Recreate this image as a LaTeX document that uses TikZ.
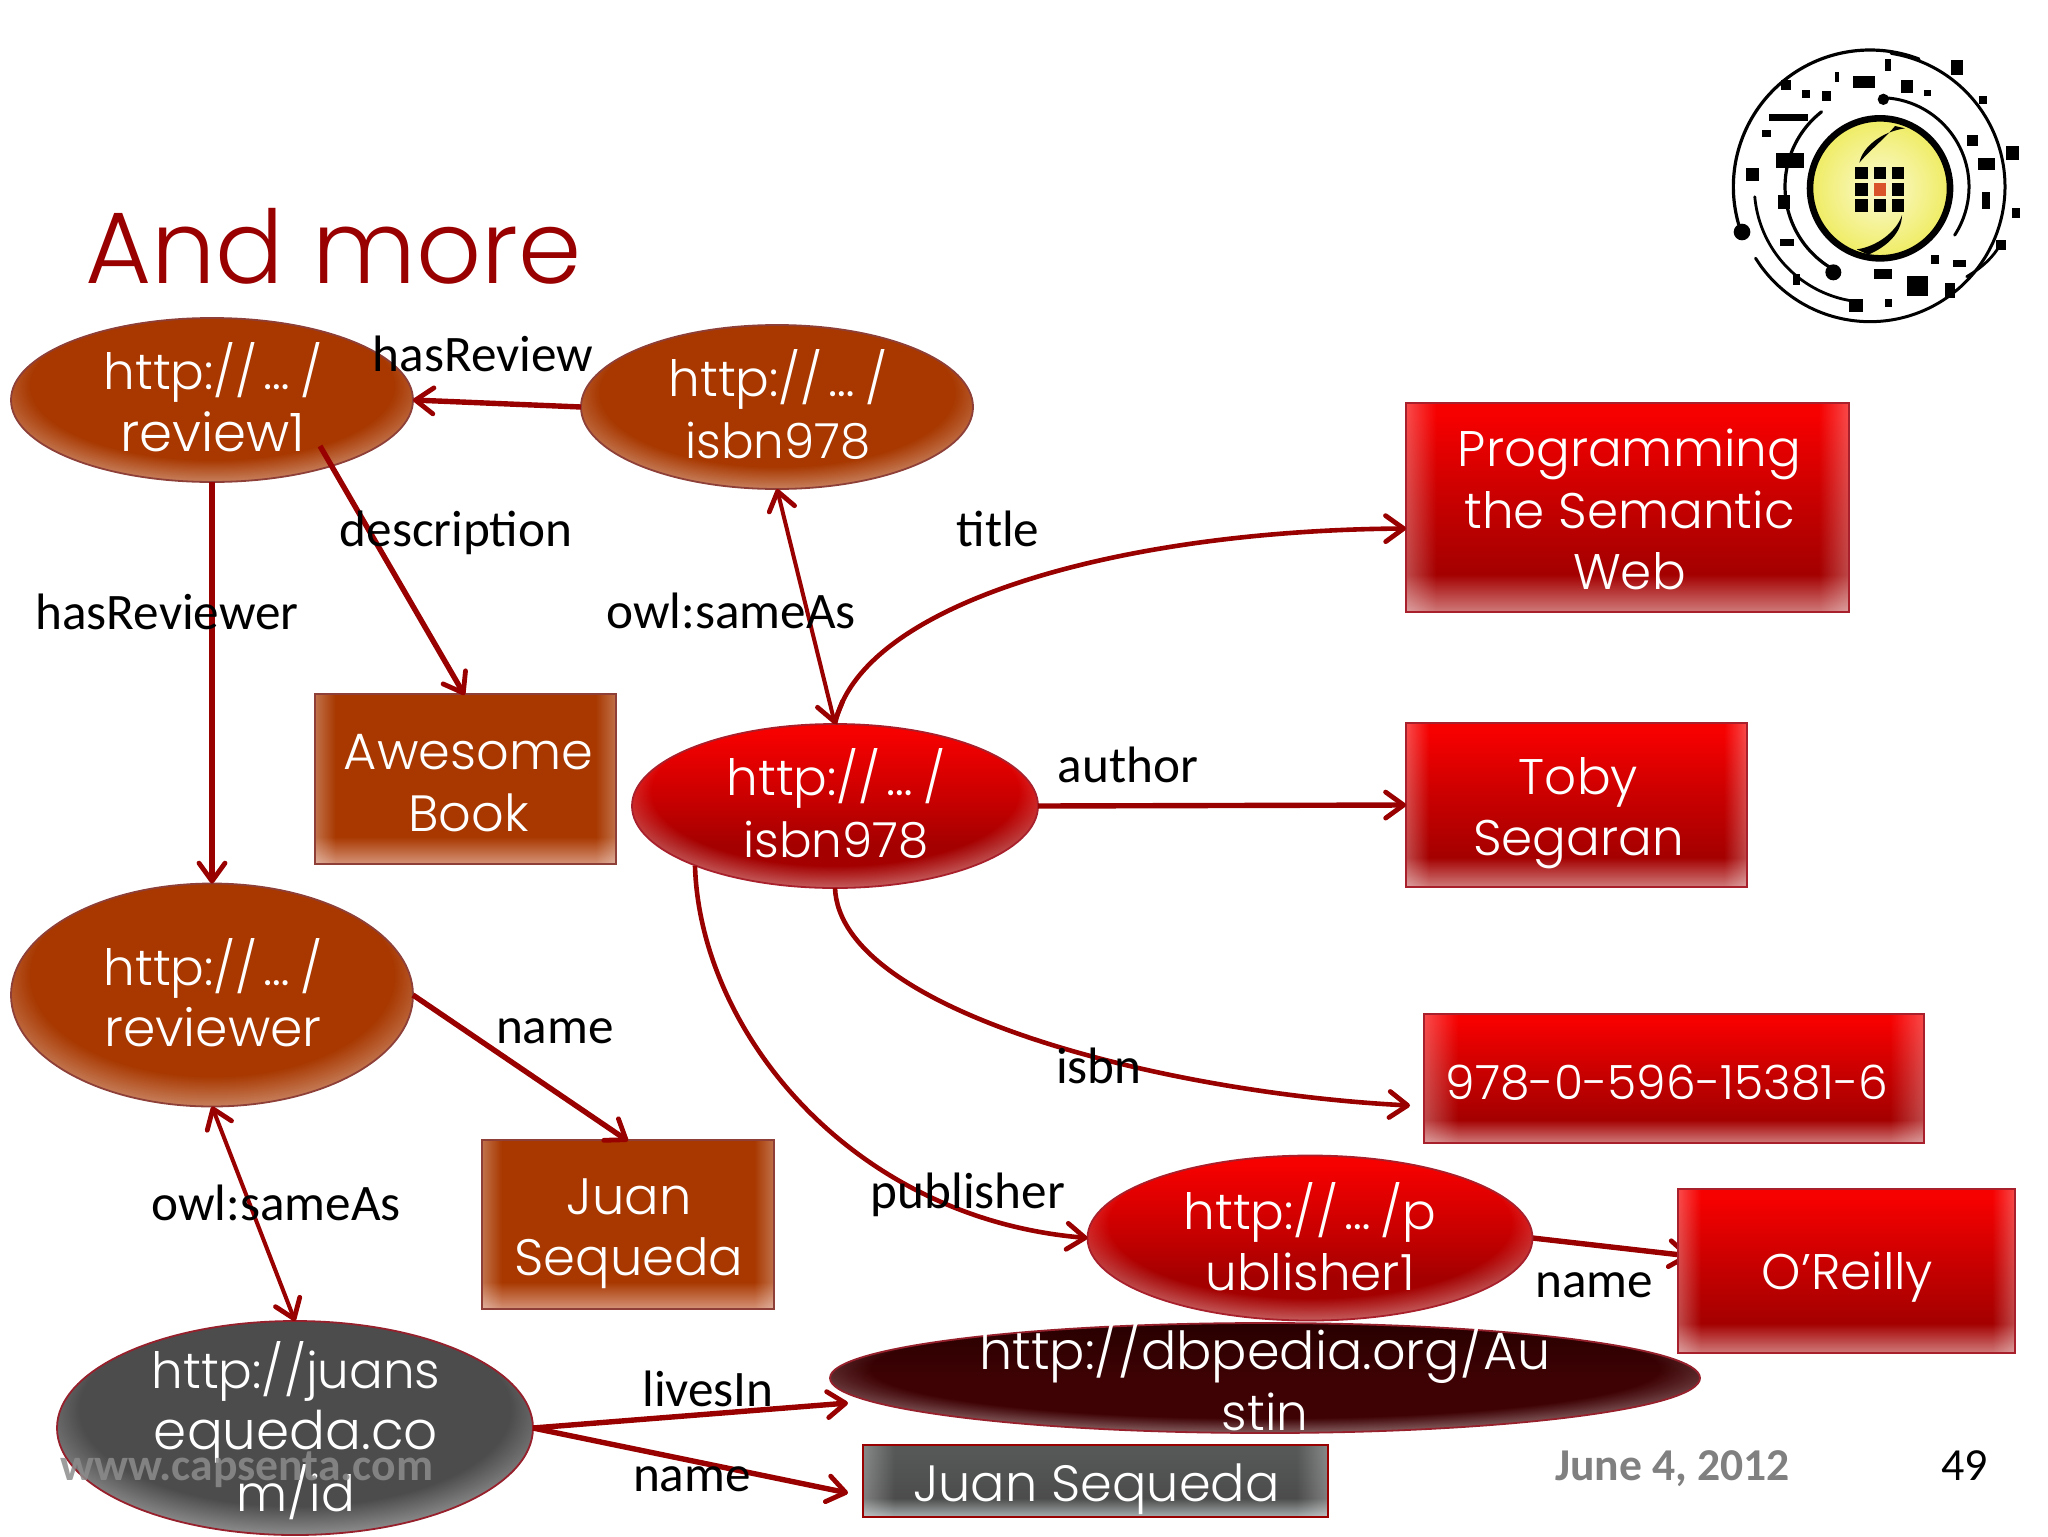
\documentclass[tikz,border=0pt]{standalone}
\usepackage{fontspec}
\usetikzlibrary{shapes.geometric,arrows.meta,fadings}
\newfontfamily\gothic{Poppins}[UprightFont=* Light]
\newfontfamily\lblfont{Carlito}
\newcommand{\gsz}[2]{{\fontsize{#1}{30.7}\selectfont #2}}
\newcommand{\dotsurl}{http://\kern.12em…\kern.2em/}
\definecolor{arrowred}{HTML}{990000}
\definecolor{titlered}{HTML}{990000}
\definecolor{brownbase}{HTML}{A83800}
\definecolor{brownlow}{HTML}{D59378}
\definecolor{redtop}{HTML}{F60000}
\definecolor{redmid}{HTML}{C80000}
\definecolor{reddark}{HTML}{A40000}
\definecolor{redlow}{HTML}{CF7A7A}
\definecolor{greybase}{HTML}{4C4C4C}
\definecolor{greytop}{HTML}{565858}
\definecolor{greylow}{HTML}{A8AEAE}
\definecolor{maroonbase}{HTML}{3E0204}
\definecolor{maroontop}{HTML}{280000}
\definecolor{brownedge}{HTML}{8E4038}
\definecolor{rededge}{HTML}{A8202C}
\definecolor{greyedge}{HTML}{96202C}
\definecolor{yellowin}{HTML}{FBFAD2}
\definecolor{yellowout}{HTML}{EFEC62}
\definecolor{logored}{HTML}{D9532B}
\pgfdeclareradialshading{ringshade}{\pgfpoint{0bp}{8bp}}{color(0bp)=(black); color(22.5bp)=(black); color(33bp)=(white!65!black); color(50bp)=(white!65!black)}
\pgfdeclarefading{ringfade}{\pgfuseshading{ringshade}}
\pgfdeclarehorizontalshading{sideshade}{100bp}{color(0bp)=(white!30!black); color(25bp)=(white!30!black); color(28.5bp)=(black); color(71.5bp)=(black); color(75bp)=(white!30!black); color(100bp)=(white!30!black)}
\pgfdeclarefading{sidefade}{\pgfuseshading{sideshade}}
\pgfdeclareverticalshading{brownrect}{100bp}{color(0bp)=(brownlow); color(25bp)=(brownlow); color(33bp)=(brownbase); color(100bp)=(brownbase)}
\pgfdeclareverticalshading{redrect}{100bp}{color(0bp)=(redlow); color(25bp)=(redlow); color(34bp)=(reddark); color(52bp)=(redmid); color(72bp)=(redtop); color(100bp)=(redtop)}
\pgfdeclareverticalshading{greyrect}{100bp}{color(0bp)=(greylow); color(25bp)=(greylow); color(38bp)=(greybase); color(70bp)=(greytop); color(100bp)=(greytop)}
\pgfdeclareverticalshading{brownoval}{100bp}{color(0bp)=(brownbase); color(100bp)=(brownbase)}
\pgfdeclareverticalshading{redoval}{100bp}{color(0bp)=(reddark); color(38bp)=(reddark); color(52bp)=(redmid); color(72bp)=(redtop); color(100bp)=(redtop)}
\pgfdeclareverticalshading{greyoval}{100bp}{color(0bp)=(greybase); color(100bp)=(greybase)}
\pgfdeclareverticalshading{maroonoval}{100bp}{color(0bp)=(maroonbase); color(50bp)=(maroonbase); color(75bp)=(maroontop); color(100bp)=(maroontop)}
\pgfdeclarelayer{bg}
\pgfdeclarelayer{conn}
\pgfsetlayers{bg,conn,main}
\tikzset{
  gtext/.style={inner sep=0, outer sep=0, text=white, align=center, font=\gothic\fontsize{25}{30.7}\selectfont},
  oval/.style 2 args={ellipse, draw, shade, line width=0.9pt, inner sep=0, outer sep=0,
    minimum width=#1, minimum height=#2,
    path picture={\fill[white,path fading=ringfade] (path picture bounding box.south west) rectangle (path picture bounding box.north east);}},
  brown oval/.style={draw=brownedge, shading=brownoval},
  red oval/.style={draw=rededge, shading=redoval},
  grey oval/.style={draw=greyedge, shading=greyoval},
  maroon oval/.style={draw=greyedge, shading=maroonoval},
  panel/.style 2 args={rectangle, draw, shade, line width=1pt, inner sep=0, outer sep=0,
    minimum width=#1, minimum height=#2,
    path picture={\fill[white,path fading=sidefade] (path picture bounding box.south west) rectangle (path picture bounding box.north east);}},
  brown panel/.style={draw=brownedge, shading=brownrect},
  red panel/.style={draw=rededge, shading=redrect},
  grey panel/.style={draw=arrowred, shading=greyrect},
  barb/.tip={Straight Barb[length=9pt,width=13pt,line width=2.4pt,round]},
  link/.style={draw=arrowred, line width=2.7pt, -barb},
  thinlink/.style={draw=arrowred, line width=2pt, barb-barb},
  bendlink/.style={draw=arrowred, line width=2.3pt, -barb},
  lbl/.style={inner sep=0, outer sep=0, anchor=base, text=black, font=\lblfont\fontsize{25.6}{29}\selectfont},
  foot/.style={inner sep=0, outer sep=0, anchor=base west, font=\lblfont\bfseries\fontsize{22.8}{26}\selectfont},
}
\begin{document}
\begin{tikzpicture}[x=0.5pt,y=-0.5pt]
\useasboundingbox (0,0) rectangle (2048,1536);
\begin{pgfonlayer}{bg}
\fill[white] (0,0) rectangle (2048,1536);
\end{pgfonlayer}

% title
\node[anchor=base west, inner sep=0, text=titlered, font=\gothic\fontsize{50.8}{60}\selectfont] (heading) at (85,283) {And more};

% ovals
\node[oval={201pt}{82pt}, brown oval] (E1) at (212,400) {};
\node[oval={196pt}{82pt}, brown oval] (E2) at (777,407) {};
\node[oval={203pt}{82pt}, red oval] (E3) at (835,806) {};
\node[oval={201pt}{111.5pt}, brown oval] (E4) at (212,995) {};
\node[oval={222.5pt}{82.5pt}, red oval] (E5) at (1310,1238) {};
\node[oval={435pt}{55pt}, maroon oval] (E6) at (1265,1378) {};
\node[oval={238pt}{107pt}, grey oval] (E7) at (295,1428) {};

% panels
\node[panel={221.5pt}{104.5pt}, red panel] (B1) at (1627.5,507.5) {};
\node[panel={170.5pt}{82pt}, red panel] (B2) at (1576.5,805) {};
\node[panel={250pt}{64.5pt}, red panel] (B3) at (1674,1078.5) {};
\node[panel={168.5pt}{82pt}, red panel] (B4) at (1846.5,1271) {};
\node[panel={232.5pt}{36pt}, grey panel] (B5) at (1095.5,1481) {};
\node[panel={150.5pt}{85pt}, brown panel] (B6) at (465.5,779) {};
\node[panel={146pt}{84.5pt}, brown panel] (B7) at (628,1224.5) {};

% panel texts
\node[gtext] (P1) at ([shift={(2,2)}]B1) {Programming\\the Semantic\\Web};
\node[gtext] (P2) at ([shift={(2,8)}]B2) {Toby\\Segaran};
\node[gtext] (P3) at ([shift={(-7,4)}]B3) {\gsz{23.6}{978-0-596-15381-6}};
\node[gtext] (P4) at ([shift={(1,6.5)}]B4) {O’Reilly};
\node[gtext] (P5) at ([shift={(1,8)}]B5) {\gsz{25.5}{Juan Sequeda}};
\node[gtext] (P6) at ([shift={(3,4)}]B6) {\gsz{25.5}{Awesome}\\\gsz{25.5}{Book}};
\node[gtext] (P7) at ([shift={(1,9)}]B7) {\gsz{25.6}{Juan}\\\gsz{25.6}{Sequeda}};

% oval texts
\node[gtext] (T1) at ([shift={(1,-2.6)}]E1) {\dotsurl\\\gsz{26.5}{review1}};
\node[gtext] (T2) at ([shift={(1,-2.6)}]E2) {\dotsurl\\\gsz{24.2}{isbn978}};
\node[gtext] (T3) at ([shift={(1,-2.6)}]E3) {\dotsurl\\\gsz{24.2}{isbn978}};
\node[gtext] (T4) at ([shift={(1,-2.6)}]E4) {\dotsurl\\\gsz{26}{reviewer}};
\node[gtext] (T5) at ([shift={(0,-1)}]E5) {\dotsurl p\\ublisher1};
\node[gtext] (T6) at ([shift={(0,-2.6)}]E6) {\gsz{26.2}{http://dbpedia.org/Au}\\stin};
\node[gtext] (T7) at ([shift={(1,2.6)}]E7) {http://juans\\\gsz{26.6}{equeda.co}\\m/id};

% connectors
\coordinate (descstart) at (320,446);
\path[link] (E2.west) -- (E1.east);
\path[link] (descstart) -- ([shift={(-1,1)}]B6.north);
\path[link] (E1.south) -- (E4.north);
\path[thinlink] (E2.south) -- (E3.north);
\path[bendlink] (E3.north) .. controls +(25,-120) and +(-290,2) .. ([shift={(0,21)}]B1.west);
\path[link] (E3.east) -- (B2.west);
\path[bendlink] (E3.south) .. controls +(5,125) and +(-240,-12) .. ([shift={(-14,27)}]B3.west);
\coordinate (pubstart) at (695,866);
\path[bendlink] (pubstart) .. controls +(5,165) and +(-237,-20) .. (E5.west);
\path[link] (E4.east) -- ([shift={(0,1)}]B7.north);
\path[thinlink] (E4.south) -- (E7.north);
\coordinate (gstart) at (E7.east);
\path[link] (gstart) -- ([shift={(18,25)}]E6.west);
\path[link] (gstart) -- ([shift={(-15,12)}]B5.west);
\begin{pgfonlayer}{conn}
\path[link] (E5.east) -- ([shift={(12,-15)}]B4.west);
\end{pgfonlayer}

% labels
\node[lbl] (L1) at (483,371) {hasReview};
\node[lbl] (L2) at (456,546) {description};
\node[lbl] (L3) at (167,629) {hasReviewer};
\node[lbl] (L4) at (731,628) {owl:sameAs};
\node[lbl] (L5) at (998,546) {title};
\node[lbl] (L6) at (1128,782) {author};
\node[lbl] (L7) at (555,1043) {name};
\node[lbl] (L8) at (1099,1083) {isbn};
\node[lbl] (L9) at (968,1208) {publisher};
\node[lbl] (L10) at (276,1220) {owl:sameAs};
\node[lbl] (L11) at (1594,1297) {name};
\node[lbl] (L12) at (708,1406) {livesIn};
\node[lbl] (L13) at (692,1491) {name};

% footer
\node[foot, text=black!45, opacity=.85] (F1) at (60,1480) {www.capsenta.com};
\node[foot, text=black!50] (F2) at (1555,1480) {June 4, 2012};
\node[foot, font=\lblfont\fontsize{23}{26}\selectfont, text=black] (F3) at (1941,1480) {49};

% logo
\begin{scope}[shift={(1700,20)},x=0.16667pt,y=-0.16667pt]
  \shade[inner color=yellowin, outer color=yellowout] (540,505) circle [x radius=210, y radius=210];
  \draw[black, line width=3.3pt] (540,505) circle [x radius=210, y radius=210];
  \fill[black] (615,325) .. controls (545,335) and (488,380) .. (478,428) .. controls (510,390) and (555,355) .. (585,318) -- cycle;
  \fill[black] (606,585) .. controls (590,635) and (530,680) .. (470,688) -- (505,704) .. controls (560,680) and (605,640) .. (606,585) -- cycle;
  \foreach \cx in {485,540,594} \foreach \cy in {459,509,557} {
    \fill[black] (\cx-19,\cy-19) rectangle (\cx+19,\cy+19);
  }
  \fill[logored] (521,490) rectangle (559,528);
  \foreach \R/\cx/\ca/\cb/\w in {410/510/196/69/1.6, 405/510/81/-148/1.5, 267/540/88/-33/1.5, 285/540/128/241/1.6, 347/510/185/263/1.4} {
    \draw[black, line width=\w pt, line cap=round] plot[domain=\ca:\cb, samples=60, smooth] ({\cx+\R*cos(\x)},{500-\R*sin(\x)});
  }
  \draw[black, line width=1.4pt, line cap=round] (800,770) .. controls (850,740) and (880,710) .. (900,675);
  \fill[black] (126,636) circle [x radius=25, y radius=25];
  \fill[black] (400,757) circle [x radius=24, y radius=24];
  \fill[black] (550,238) circle [x radius=17, y radius=17];
  \foreach \px/\py/\pw/\ph in {772/142/36/44, 492/186/68/38, 411/172/12/30, 620/200/36/40, 683/220/22/18, 850/240/24/24, 318/222/26/22, 380/228/28/30, 258/195/28/28, 265/293/115/22, 200/340/26/22, 270/420/85/45, 157/463/40/38, 252/545/38/42, 260/668/42/22, 290/778/20/35, 818/362/34/32, 938/400/40/42, 860/432/50/36, 858/542/22/52, 948/580/26/30, 902/675/30/30, 705/718/26/28, 778/730/38/22, 550/762/54/32, 652/798/64/60, 750/812/28/44, 468/857/44/38, 566/849/22/22, 563/135/18/34} {
    \fill[black] (\px-\pw/2,\py-\ph/2) rectangle (\px+\pw/2,\py+\ph/2);
  }
\end{scope}
\end{tikzpicture}
\end{document}
